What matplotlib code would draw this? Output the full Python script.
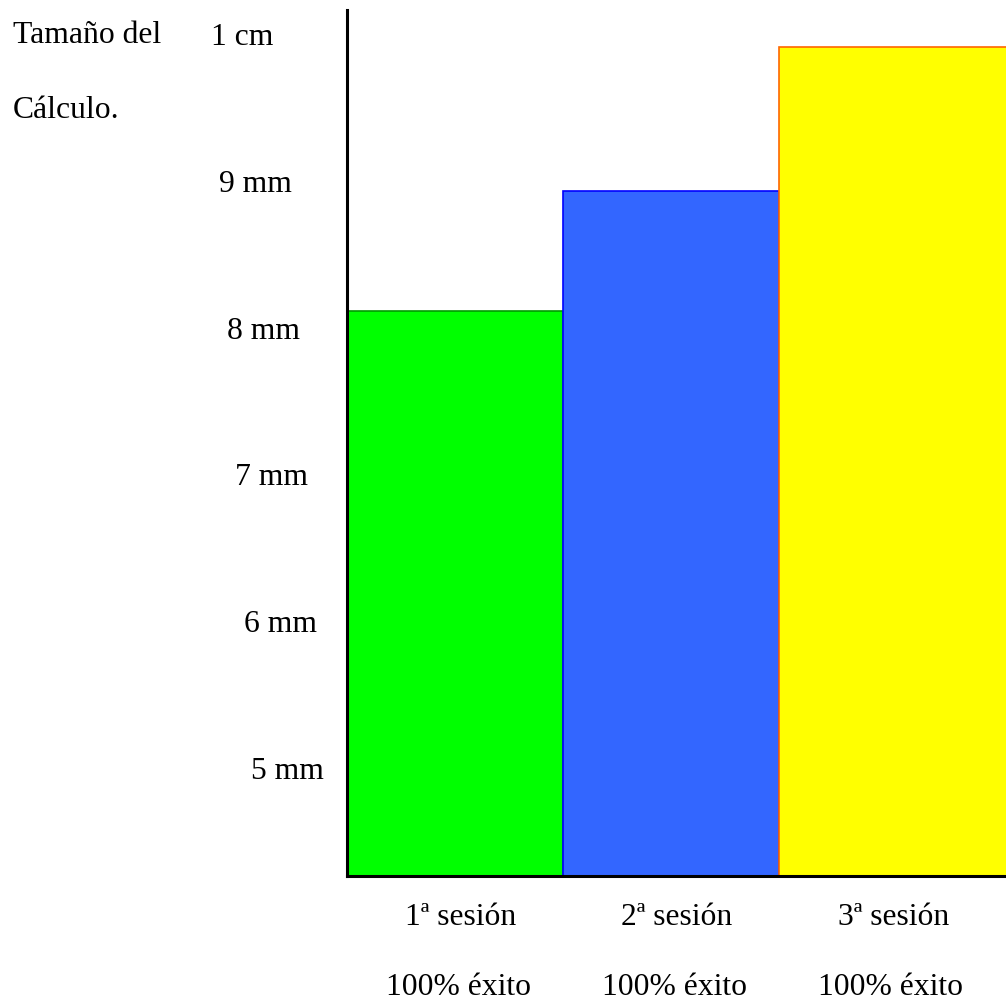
import matplotlib
matplotlib.use("Agg")
import matplotlib.pyplot as plt
from matplotlib.transforms import blended_transform_factory

plt.rcParams['font.family'] = ['Liberation Serif', 'DejaVu Serif']

# tamaño del cálculo por sesión (mm)
sesiones = ['1ª sesión', '2ª sesión', '3ª sesión']
exito = ['100% éxito', '100% éxito', '100% éxito']
tamano = [8.12, 8.94, 9.92]
colores = ['#00ff00', '#3366ff', '#ffff00']
bordes = ['#009900', '#0000ff', '#ff6600']

# escala del eje y
marcas = [5, 6, 7, 8, 9, 10]
etiquetas = ['5 mm', '6 mm', '7 mm', '8 mm', '9 mm', '1 cm']
desplaz_etiq = [-23, -30, -39, -47, -55, -74]   # px a la izquierda del eje

anchos = [1.0, 1.0, 1.1]   # la última barra llega al borde

W, H = 1006, 1002
fig = plt.figure(figsize=(W / 100, H / 100), dpi=100)
ax = fig.add_axes([347 / W, 1 - 876 / H, (W - 347) / W, (876 - 10) / H])

x = list(range(len(sesiones)))
ax.bar(x, tamano, width=anchos, align='edge', color=colores,
       edgecolor=bordes, linewidth=1.2, zorder=2)

ax.set_xlim(0, 3.05)
ax.set_ylim(4.27, 10.17)

for s in ['top', 'right']:
    ax.spines[s].set_visible(False)
for s in ['left', 'bottom']:
    ax.spines[s].set_linewidth(2.2)
    ax.spines[s].set_zorder(3)
ax.set_xticks([])
ax.set_yticks([])

fs = 22.8
ty = blended_transform_factory(ax.transAxes, ax.transData)
for v, t, dx in zip(marcas, etiquetas, desplaz_etiq):
    ax.annotate(t, xy=(0, v), xycoords=ty, xytext=(dx, -10),
                textcoords='offset pixels', ha='right', va='baseline',
                fontsize=fs, annotation_clip=False)

tx = blended_transform_factory(ax.transData, ax.transAxes)
for i, (s, e) in enumerate(zip(sesiones, exito)):
    ax.annotate(s, xy=(i + 0.5, 0), xycoords=tx, xytext=(6, -49),
                textcoords='offset pixels', ha='center', va='baseline',
                fontsize=fs, annotation_clip=False)
    ax.annotate(e, xy=(i + 0.5, 0), xycoords=tx, xytext=(3, -119),
                textcoords='offset pixels', ha='center', va='baseline',
                fontsize=fs, annotation_clip=False)

fig.text(13 / W, 1 - 43 / H, 'Tamaño del', fontsize=fs, va='baseline', ha='left')
fig.text(13 / W, 1 - 118 / H, 'Cálculo.', fontsize=fs, va='baseline', ha='left')

fig.savefig('out.png', dpi=100)
